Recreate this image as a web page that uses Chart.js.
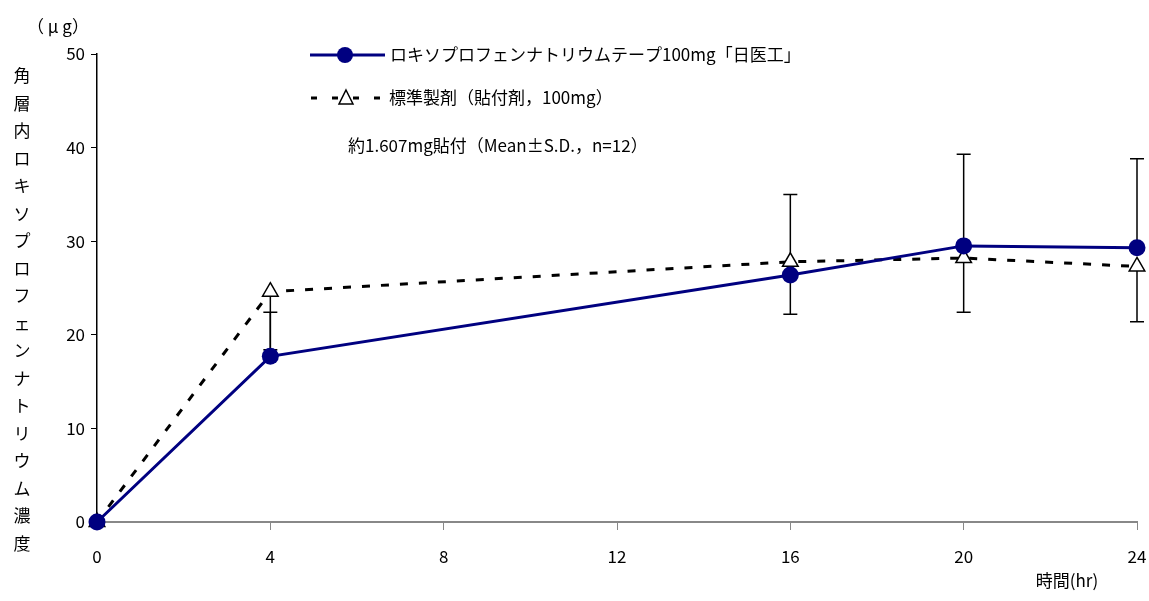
<!DOCTYPE html>
<html>
<head>
<meta charset="utf-8">
<script src="https://cdn.jsdelivr.net/npm/chart.js@4/dist/chart.umd.min.js"></script>
<style>
  html, body { margin: 0; padding: 0; background: #fff; }
  #wrap { width: 1149px; height: 601px; }
</style>
</head>
<body>
<div id="wrap"><canvas id="chart"></canvas></div>
<script>
// data
var hours = [0, 4, 16, 20, 24];
var testValues = [0, 17.7, 26.4, 29.5, 29.3];      // ロキソプロフェンナトリウムテープ100mg「日医工」
var refValues = [0, 24.6, 27.8, 28.2, 27.3];       // 標準製剤（貼付剤, 100mg）
var testUpper = [null, 22.4, 35.0, 39.3, 38.8];    // mean + S.D. (test)
var refLower = [null, 18.4, 22.2, 22.4, 21.4];     // mean - S.D. (reference)
var xTicks = [0, 4, 8, 12, 16, 20, 24];
var yTicks = [0, 10, 20, 30, 40, 50];

var testLabel = 'ロキソプロフェンナトリウムテープ100mg「日医工」';
var refLabel = '標準製剤（貼付剤，100mg）';
var noteText = '約1.607mg貼付（Mean±S.D.，n=12）';
var yTitle = '角層内ロキソプロフェンナトリウム濃度';

var navy = '#000080';
var fontFam = '"Noto Sans CJK JP", "Noto Sans", sans-serif';

function pts(vals) {
    return hours.map(function (h, i) { return { x: h, y: vals[i] }; });
}

var errorBars = {
    id: 'errorBars',
    beforeDatasetsDraw: function (chart) {
        var ctx = chart.ctx, xs = chart.scales.x, ys = chart.scales.y;
        ctx.save();
        ctx.strokeStyle = '#000';
        ctx.lineWidth = 1.5;
        function bar(x, from, to) {
            var px = xs.getPixelForValue(x);
            var p1 = ys.getPixelForValue(from), p2 = ys.getPixelForValue(to);
            ctx.beginPath();
            ctx.moveTo(px, p1); ctx.lineTo(px, p2);
            ctx.moveTo(px - 7, p2); ctx.lineTo(px + 7, p2);
            ctx.stroke();
        }
        hours.forEach(function (h, i) {
            if (testUpper[i] != null) bar(h, testValues[i], testUpper[i]);
            if (refLower[i] != null) bar(h, refValues[i], refLower[i]);
        });
        ctx.restore();
    }
};

var extras = {
    id: 'extras',
    afterDraw: function (chart) {
        var ctx = chart.ctx;
        ctx.save();
        ctx.fillStyle = '#000';
        ctx.font = '17px ' + fontFam;
        ctx.textBaseline = 'middle';

        // legend row 1
        ctx.strokeStyle = navy; ctx.lineWidth = 3;
        ctx.beginPath(); ctx.moveTo(310, 55); ctx.lineTo(385, 55); ctx.stroke();
        ctx.fillStyle = navy;
        ctx.beginPath(); ctx.arc(345, 55, 8, 0, Math.PI * 2); ctx.fill();
        ctx.fillStyle = '#000';
        ctx.textAlign = 'left';
        ctx.fillText(testLabel, 390, 55);

        // legend row 2
        ctx.strokeStyle = '#000'; ctx.lineWidth = 3;
        ctx.setLineDash([6, 15]);
        ctx.beginPath(); ctx.moveTo(311, 98); ctx.lineTo(382, 98); ctx.stroke();
        ctx.setLineDash([]);
        ctx.lineWidth = 1.5;
        ctx.fillStyle = '#fff';
        ctx.beginPath();
        ctx.moveTo(346, 90); ctx.lineTo(353, 104); ctx.lineTo(339, 104); ctx.closePath();
        ctx.fill(); ctx.stroke();
        ctx.fillStyle = '#000';
        ctx.fillText(refLabel, 389, 98);

        // note
        ctx.fillText(noteText, 348, 146);

        // unit
        ctx.textAlign = 'center';
        ctx.fillText('（ μ g）', 58, 27);

        // vertical y title
        var chars = Array.from(yTitle);
        chars.forEach(function (c, i) {
            ctx.fillText(c, 22, 76 + i * 27.5);
        });

        // x title
        ctx.fillText('時間(hr)', 1067, 581);
        ctx.restore();
    }
};

new Chart(document.getElementById('chart'), {
    type: 'line',
    data: {
        datasets: [
            {
                label: testLabel,
                data: pts(testValues),
                borderColor: navy,
                backgroundColor: navy,
                borderWidth: 3,
                pointRadius: 8.5,
                pointStyle: 'circle',
                pointBorderWidth: 0,
                tension: 0,
                clip: false
            },
            {
                label: refLabel,
                data: pts(refValues),
                borderColor: '#000',
                backgroundColor: '#fff',
                borderWidth: 3,
                borderDash: [8, 11],
                pointRadius: 9,
                pointStyle: 'triangle',
                pointBorderColor: '#000',
                pointBackgroundColor: '#fff',
                pointBorderWidth: 1.5,
                tension: 0,
                clip: false
            }
        ]
    },
    options: {
        responsive: true,
        maintainAspectRatio: false,
        animation: false,
        layout: { autoPadding: false, padding: { left: 0, top: 54, right: 12, bottom: 0 } },
        plugins: {
            legend: { display: false },
            tooltip: { enabled: false }
        },
        scales: {
            x: {
                type: 'linear',
                min: 0,
                max: 24,
                afterBuildTicks: function (s) { s.ticks = xTicks.map(function (v) { return { value: v }; }); },
                afterFit: function (s) { s.height = 79; s.paddingRight = 0; },
                grid: { drawOnChartArea: false, drawTicks: true, tickLength: 8, color: '#888' },
                border: { color: '#888', width: 2 },
                ticks: { color: '#000', padding: 16, font: { family: fontFam, size: 17 } }
            },
            y: {
                min: 0,
                max: 50,
                afterBuildTicks: function (s) { s.ticks = yTicks.map(function (v) { return { value: v }; }); },
                afterFit: function (s) { s.width = 97; },
                grid: { drawOnChartArea: false, drawTicks: true, tickLength: 6, color: '#000' },
                border: { color: '#000', width: 1.5 },
                ticks: { color: '#000', padding: 6, font: { family: fontFam, size: 17 } }
            }
        }
    },
    plugins: [errorBars, extras]
});
</script>
</body>
</html>
